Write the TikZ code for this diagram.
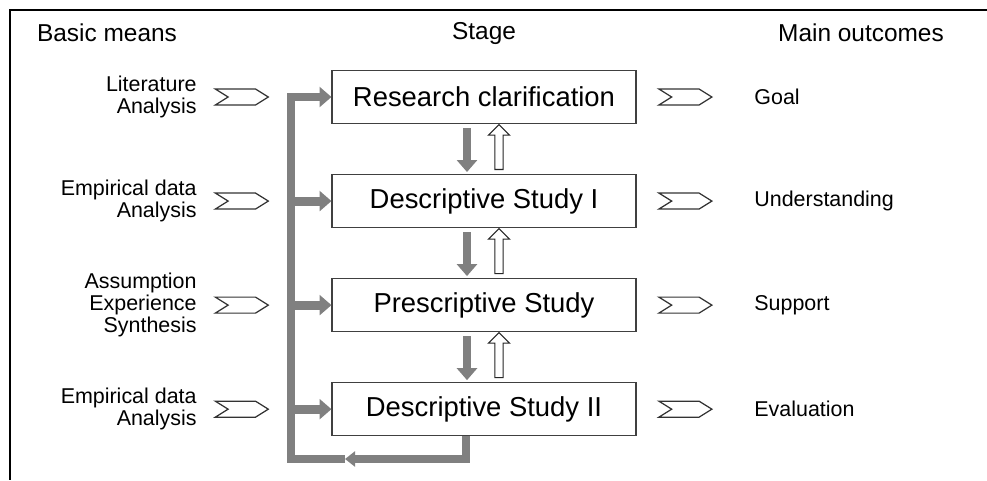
\documentclass[tikz,border=0pt]{standalone}
\usepackage{fontspec}
\setmainfont{Liberation Sans}
\usetikzlibrary{positioning, calc, arrows.meta, shapes.arrows, shapes.symbols}

\tikzset{
	stagebox/.style={draw=black!75, line width=0.6pt, minimum width=6.08cm, minimum height=1.06cm, inner sep=0pt, font=\fontsize{15.6}{18}\selectfont},
	chev/.style={signal, signal to=east, signal from=west, signal pointer angle=64, draw=black!80, line width=0.7pt, fill=white, minimum width=1.06cm, minimum height=0.32cm, inner sep=0pt},
	means/.style={align=right, inner sep=0pt, font=\fontsize{12.2}{12.4}\selectfont},
	outcome/.style={inner sep=0pt, font=\fontsize{12.2}{12.4}\selectfont},
	hdr/.style={inner sep=0pt, font=\fontsize{13.9}{16}\selectfont},
	grayline/.style={draw=black!50, line width=5.1pt, line join=miter},
	grayarr/.style={grayline, -{Triangle[length=6.8pt, width=11.3pt]}},
	hollowup/.style={single arrow, draw=black!85, fill=white, line width=0.6pt, minimum height=0.9cm, single arrow head extend=3.7pt, inner xsep=0pt, inner ysep=2pt},
}

\begin{document}
\begin{tikzpicture}
	\useasboundingbox (0,0) rectangle (19.74,-9.6);
	\draw[line width=1.1pt] (19.74,-0.2) -- (0.2,-0.2) -- (0.2,-9.6);
	
	\node[hdr] (h1) at (2.14,-0.66) {Basic means};
	\node[hdr] (h2) at (9.68,-0.66) {Stage};
	\node[hdr] (h3) at (17.22,-0.66) {Main outcomes};
	
	\node[stagebox] (r1) at (9.68,-1.94) {Research clarification};
	\node[stagebox, below=1.0cm of r1] (r2) {Descriptive Study I};
	\node[stagebox, below=1.0cm of r2] (r3) {Prescriptive Study};
	\node[stagebox, below=1.0cm of r3] (r4) {Descriptive Study II};
	
	\node[chev, left=1.24cm of r1] (lc1) {};
	\node[chev, left=1.24cm of r2] (lc2) {};
	\node[chev, left=1.24cm of r3] (lc3) {};
	\node[chev, left=1.24cm of r4] (lc4) {};
	
	\node[means, left=0.6cm of lc1] (m1) {Literature\\Analysis};
	\node[means, left=0.6cm of lc2] (m2) {Empirical data\\Analysis};
	\node[means, left=0.6cm of lc3] (m3) {Assumption\\Experience\\Synthesis};
	\node[means, left=0.6cm of lc4] (m4) {Empirical data\\Analysis};
	
	\node[chev, right=0.68cm of r1] (rc1) {};
	\node[chev, right=0.68cm of r2] (rc2) {};
	\node[chev, right=0.68cm of r3] (rc3) {};
	\node[chev, right=0.68cm of r4] (rc4) {};
	
	\node[outcome, right=0.82cm of rc1] (o1) {Goal};
	\node[outcome, right=0.82cm of rc2] (o2) {Understanding};
	\node[outcome, right=0.82cm of rc3] (o3) {Support};
	\node[outcome, right=0.82cm of rc4] (o4) {Evaluation};
	
	% down and up between stages
	\draw[grayarr] ($(r1.south)+(-0.34,-0.08)$) -- ($(r2.north)+(-0.34,0.04)$);
	\draw[grayarr] ($(r2.south)+(-0.34,-0.08)$) -- ($(r3.north)+(-0.34,0.04)$);
	\draw[grayarr] ($(r3.south)+(-0.34,-0.08)$) -- ($(r4.north)+(-0.34,0.04)$);
	\node[hollowup, rotate=90] (u1) at ($(r1.south)!0.5!(r2.north)+(0.3,0)$) {};
	\node[hollowup, rotate=90] (u2) at ($(r2.south)!0.5!(r3.north)+(0.3,0)$) {};
	\node[hollowup, rotate=90] (u3) at ($(r3.south)!0.5!(r4.north)+(0.3,0)$) {};
	
	% feedback loop
	\coordinate (lbot) at (5.82,-9.18);
	\draw[grayline, -{Triangle[length=5.7pt, width=8.5pt]}] ([xshift=-0.36cm]r4.south) |- (6.9,-9.18);
	\draw[grayarr] (6.9,-9.18) -- (lbot) |- (r1.west);
	\draw[grayarr] (lbot |- r2.west) -- (r2.west);
	\draw[grayarr] (lbot |- r3.west) -- (r3.west);
	\draw[grayarr] (lbot |- r4.west) -- (r4.west);
\end{tikzpicture}
\end{document}
